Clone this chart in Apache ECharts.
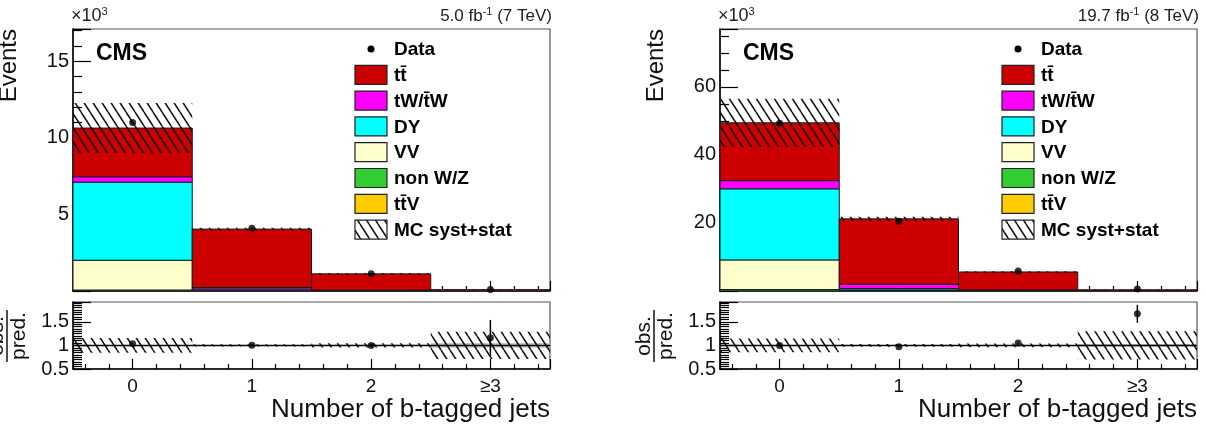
<!DOCTYPE html>
<html>
<head>
<meta charset="utf-8">
<script src="https://cdn.jsdelivr.net/npm/echarts@6/dist/echarts.min.js"></script>
<style>
html, body { margin: 0; padding: 0; background: #fff; }
#main { width: 1206px; height: 429px; }
</style>
</head>
<body>
<div id="main"></div>
<script>
var bins = [0, 1, 2, 3];
var binLabels = ['0', '1', '2', '≥3'];

// 7 TeV, events x 10^3, stack order bottom -> top
var ttV7 = [0.005, 0.01, 0.01, 0.003];
var nonWZ7 = [0.06, 0.02, 0.005, 0.001];
var vv7 = [1.94, 0.02, 0.003, 0.0];
var dy7 = [5.10, 0.08, 0.01, 0.001];
var tw7 = [0.35, 0.10, 0.03, 0.002];
var tt7 = [3.18, 3.81, 1.06, 0.08];
var unc7 = [1.63, 0.09, 0.05, 0.025];
var data7 = [11.0, 4.10, 1.12, 0.10];
var dataErr7 = [0.10, 0.06, 0.03, 0.01];
var ratio7 = [1.035, 1.005, 1.0, 1.16];
var ratioErr7 = [0.01, 0.015, 0.03, 0.38];
var band7 = [0.155, 0.022, 0.045, 0.29];
var stat7 = [0.004, 0.006, 0.012, 0.05];

// 8 TeV
var ttV8 = [0.03, 0.05, 0.04, 0.01];
var nonWZ8 = [0.40, 0.15, 0.03, 0.005];
var vv8 = [8.70, 0.10, 0.02, 0.002];
var dy8 = [20.9, 0.40, 0.05, 0.005];
var tw8 = [2.40, 1.30, 0.20, 0.02];
var tt8 = [17.0, 19.2, 5.26, 0.32];
var unc8 = [7.1, 0.6, 0.2, 0.1];
var data8 = [49.3, 20.5, 5.9, 0.6];
var dataErr8 = [0.22, 0.14, 0.08, 0.025];
var ratio8 = [1.0, 0.97, 1.05, 1.67];
var ratioErr8 = [0.005, 0.007, 0.014, 0.19];
var band8 = [0.145, 0.028, 0.04, 0.30];
var stat8 = [0.003, 0.004, 0.01, 0.03];

var colTTV = '#ffcc00', colNonWZ = '#33cc33', colVV = '#ffffcc',
    colDY = '#00ffff', colTW = '#ff00ff', colTT = '#cc0000';
var stackColors = [colTTV, colNonWZ, colVV, colDY, colTW, colTT];

var legendNames = ['Data', 'tt\u0304', 'tW/t\u0304W', 'DY', 'VV', 'non W/Z', 'tt\u0304V', 'MC syst+stat'];
var legendColors = [null, colTT, colTW, colDY, colVV, colNonWZ, colTTV, 'hatch'];

var FONT = 'Liberation Sans, Arial, sans-serif';

function hatchPattern() {
    var c = document.createElement('canvas');
    c.width = 9; c.height = 14;
    var g = c.getContext('2d');
    g.strokeStyle = '#111';
    g.lineWidth = 1.5;
    g.beginPath();
    [-9, 0, 9].forEach(function (dx) {
        g.moveTo(dx, 0);
        g.lineTo(dx + 9, 14);
    });
    g.stroke();
    return {image: c, repeat: 'repeat'};
}
var hatch = hatchPattern();

function rectItem(fill, stroke) {
    return function (params, api) {
        var a = api.coord([api.value(0) - 0.5, api.value(1)]);
        var b = api.coord([api.value(0) + 0.5, api.value(2)]);
        return {
            type: 'rect',
            shape: {x: a[0], y: b[1], width: b[0] - a[0], height: a[1] - b[1]},
            style: {fill: fill, stroke: stroke || null, lineWidth: 1}
        };
    };
}

function errItem(params, api) {
    var a = api.coord([api.value(0), api.value(1) - api.value(2)]);
    var b = api.coord([api.value(0), api.value(1) + api.value(2)]);
    return {
        type: 'line',
        shape: {x1: a[0], y1: a[1], x2: b[0], y2: b[1]},
        style: {stroke: '#000', lineWidth: 1.5}
    };
}

function panelSeries(g, layers, unc, data, dataErr, ratio, ratioErr, band, stat) {
    var s = [];
    var base = [0, 0, 0, 0];
    layers.forEach(function (l, k) {
        var d = bins.map(function (b, i) {
            var r = [b, base[i], base[i] + l[i]];
            base[i] += l[i];
            return r;
        });
        s.push({type: 'custom', xAxisIndex: g, yAxisIndex: g, clip: true, silent: true,
            renderItem: rectItem(stackColors[k], '#1a1a1a'), data: d});
    });
    s.push({type: 'custom', xAxisIndex: g, yAxisIndex: g, clip: true, silent: true,
        renderItem: rectItem(hatch, null),
        data: bins.map(function (b, i) { return [b, base[i] - unc[i], base[i] + unc[i]]; })});
    s.push({type: 'custom', xAxisIndex: g, yAxisIndex: g, clip: true, silent: true,
        renderItem: errItem,
        data: bins.map(function (b, i) { return [b, data[i], dataErr[i]]; })});
    s.push({type: 'scatter', xAxisIndex: g, yAxisIndex: g, symbolSize: 7, silent: true,
        itemStyle: {color: '#000'},
        data: bins.map(function (b, i) { return [b, data[i]]; })});

    var r = g + 1;
    s.push({type: 'custom', xAxisIndex: r, yAxisIndex: r, clip: true, silent: true,
        renderItem: rectItem('#c4c4c4', null),
        data: bins.map(function (b, i) { return [b, 1 - stat[i], 1 + stat[i]]; })});
    s.push({type: 'custom', xAxisIndex: r, yAxisIndex: r, clip: true, silent: true,
        renderItem: rectItem(hatch, null),
        data: bins.map(function (b, i) { return [b, 1 - band[i], 1 + band[i]]; })});
    s.push({type: 'line', xAxisIndex: r, yAxisIndex: r, symbol: 'none', silent: true,
        lineStyle: {color: '#000', width: 1.5},
        data: [[-0.5, 1], [3.5, 1]]});
    s.push({type: 'custom', xAxisIndex: r, yAxisIndex: r, clip: true, silent: true,
        renderItem: errItem,
        data: bins.map(function (b, i) { return [b, ratio[i], ratioErr[i]]; })});
    s.push({type: 'scatter', xAxisIndex: r, yAxisIndex: r, symbolSize: 7, silent: true,
        itemStyle: {color: '#000'},
        data: bins.map(function (b, i) { return [b, ratio[i]]; })});
    return s;
}

function xAxisCfg(g, labels) {
    return {
        gridIndex: g, type: 'value', min: -0.5, max: 3.5, minInterval: 1, maxInterval: 1,
        axisLine: {onZero: false, lineStyle: {color: '#000', width: 1.5}},
        axisTick: {inside: true, length: 10, lineStyle: {color: '#000', width: 1.2}},
        minorTick: {show: true, splitNumber: 5, length: 5, lineStyle: {color: '#000', width: 1.2}},
        splitLine: {show: false},
        axisLabel: labels ? {
            show: true, margin: 8, fontSize: 19, color: '#111', fontFamily: FONT,
            showMinLabel: false, showMaxLabel: false,
            formatter: function (v) { var i = bins.indexOf(v); return i < 0 ? '' : binLabels[i]; }
        } : {show: false}
    };
}

function yAxisCfg(g, max, interval, minorSplit, min) {
    return {
        gridIndex: g, type: 'value', min: min || 0, max: max, interval: interval,
        axisLine: {show: true, onZero: false, lineStyle: {color: '#000', width: 1.5}},
        axisTick: {inside: true, length: 18, lineStyle: {color: '#000', width: 1.2}},
        minorTick: {show: true, splitNumber: minorSplit, length: 9, lineStyle: {color: '#000', width: 1.2}},
        splitLine: {show: false},
        axisLabel: {
            margin: 4, fontSize: 20, color: '#111', fontFamily: FONT, showMaxLabel: false,
            formatter: function (v) { return v === 0 ? '' : String(v); }
        }
    };
}

function panelGraphics(fl, fr, lumiMain, lumiSup, lumiTail) {
    var els = [];
    els.push({type: 'text', x: fl - 2, y: 16, style: {
        text: '{a|×10}{s|3}', fill: '#222', textVerticalAlign: 'middle',
        rich: {a: {fontSize: 18, fontFamily: FONT, lineHeight: 20}, s: {fontSize: 11, fontFamily: FONT, verticalAlign: 'top', lineHeight: 12}}
    }});
    els.push({type: 'text', x: fr + 2, y: 16, style: {
        text: '{a|' + lumiMain + '}{s|' + lumiSup + '}{a|' + lumiTail + '}', fill: '#222',
        textAlign: 'right', textVerticalAlign: 'middle',
        rich: {a: {fontSize: 17, fontFamily: FONT, lineHeight: 20}, s: {fontSize: 11, fontFamily: FONT, verticalAlign: 'top', lineHeight: 12}}
    }});
    els.push({type: 'text', x: fl - 64, y: 29, rotation: Math.PI / 2, style: {
        text: 'Events', fontSize: 24, fontFamily: FONT, fill: '#111',
        textAlign: 'right', textVerticalAlign: 'middle'
    }});
    els.push({type: 'text', x: fl + 23, y: 54, style: {
        text: 'CMS', fontSize: 23, fontWeight: 'bold', fontFamily: FONT, fill: '#000',
        textVerticalAlign: 'middle'
    }});
    // legend
    var bx = fr - 195, tx = fr - 156;
    legendNames.forEach(function (name, i) {
        var cy = 49 + 25.8 * i;
        var c = legendColors[i];
        if (c === null) {
            els.push({type: 'circle', shape: {cx: bx + 16, cy: cy, r: 3.5}, style: {fill: '#000'}});
        } else {
            els.push({type: 'rect', shape: {x: bx, y: cy - 9.5, width: 32, height: 19},
                style: {fill: c === 'hatch' ? hatch : c, stroke: '#222', lineWidth: 1.2}});
        }
        els.push({type: 'text', x: tx, y: cy + 1, style: {
            text: name, fontSize: 19, fontWeight: 'bold', fontFamily: FONT, fill: '#000',
            textVerticalAlign: 'middle'
        }});
    });
    // ratio title
    els.push({type: 'text', x: fl - 76, y: 336, rotation: Math.PI / 2, style: {
        text: 'obs.', fontSize: 21, fontFamily: FONT, fill: '#111',
        textAlign: 'center', textVerticalAlign: 'middle'
    }});
    els.push({type: 'line', shape: {x1: fl - 66, y1: 310, x2: fl - 66, y2: 362}, style: {stroke: '#111', lineWidth: 1.5}});
    els.push({type: 'text', x: fl - 54, y: 336, rotation: Math.PI / 2, style: {
        text: 'pred.', fontSize: 21, fontFamily: FONT, fill: '#111',
        textAlign: 'center', textVerticalAlign: 'middle'
    }});
    els.push({type: 'text', x: fr, y: 410, style: {
        text: 'Number of b-tagged jets', fontSize: 26, fontFamily: FONT, fill: '#111',
        textAlign: 'right', textVerticalAlign: 'middle'
    }});
    return els;
}

var frame = {show: true, borderColor: '#555', borderWidth: 1.2};
var option = {
    animation: false,
    backgroundColor: '#fff',
    grid: [
        Object.assign({left: 73, top: 29, width: 477, height: 262}, frame),
        Object.assign({left: 73, top: 302, width: 477, height: 67}, frame),
        Object.assign({left: 720, top: 29, width: 477, height: 262}, frame),
        Object.assign({left: 720, top: 302, width: 477, height: 67}, frame)
    ],
    xAxis: [xAxisCfg(0, false), xAxisCfg(1, true), xAxisCfg(2, false), xAxisCfg(3, true)],
    yAxis: [
        yAxisCfg(0, 17.1, 5, 5),
        yAxisCfg(1, 1.92, 0.5, 10, 0.5),
        yAxisCfg(2, 77, 20, 4),
        yAxisCfg(3, 1.92, 0.5, 10, 0.5)
    ],
    series: [].concat(
        panelSeries(0, [ttV7, nonWZ7, vv7, dy7, tw7, tt7], unc7, data7, dataErr7, ratio7, ratioErr7, band7, stat7),
        panelSeries(2, [ttV8, nonWZ8, vv8, dy8, tw8, tt8], unc8, data8, dataErr8, ratio8, ratioErr8, band8, stat8)
    ),
    graphic: [].concat(
        panelGraphics(73, 550, '5.0 fb', '-1', ' (7 TeV)'),
        panelGraphics(720, 1197, '19.7 fb', '-1', ' (8 TeV)')
    )
};

var chart = echarts.init(document.getElementById('main'), null, {renderer: 'canvas'});
chart.setOption(option);
</script>
</body>
</html>
